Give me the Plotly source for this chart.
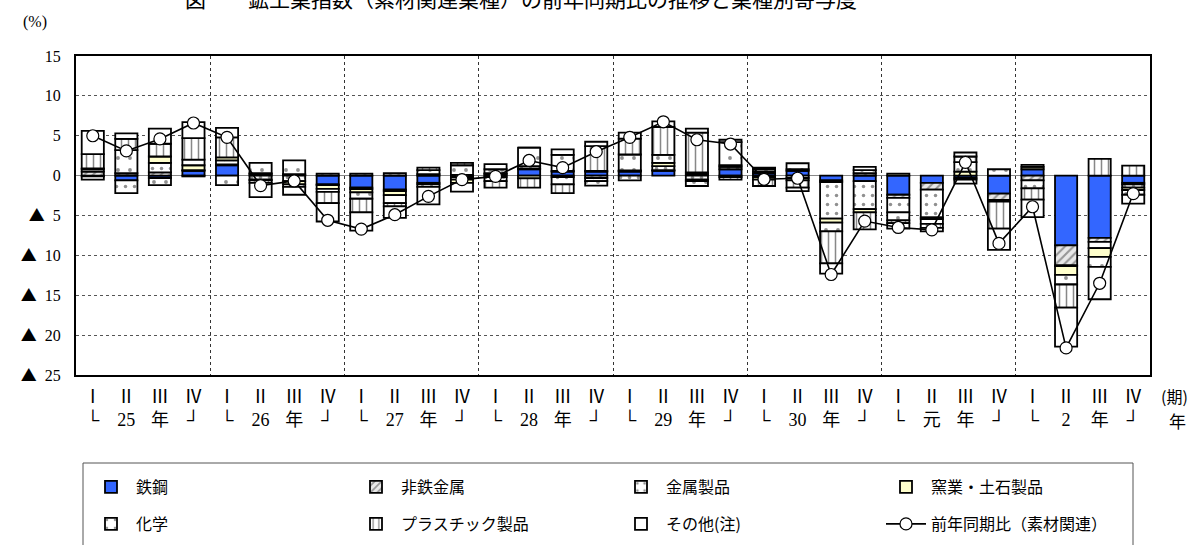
import plotly.graph_objects as go

quarters = ["Ⅰ", "Ⅱ", "Ⅲ", "Ⅳ"]
years = ["25", "26", "27", "28", "29", "30", "元", "2"]

tekko =    [-0.1, -0.6, -0.3, 0.6, 1.3, 0.2, 0.1, -1.1, -1.5, -1.75, -0.9, -0.2,
            0.2, 0.8, 0.5, 0.5, 0.5, 0.6, 0.2, 0.8, 0.3, 0.6, -0.6, -0.7,
            -2.4, -0.9, -0.3, -2.25, 0.8, -8.75, -7.8, -0.9]
hitetsu =  [0.5, 0.3, 0.4, -0.1, 0.1, 0.1, 0.1, 0.25, 0.25, 0.3, -0.2, 0.1,
            -0.2, 0.1, -0.2, -0.3, 0.1, 0.1, 0.2, -0.2, 0.2, 0.2, -0.2, 0.3,
            -0.4, -0.85, -0.2, -0.8, -0.6, -2.5, -0.5, -0.2]
kinzoku =  [0.3, -1.6, 1.2, 0.1, 0.5, -0.5, -0.7, -0.1, -0.2, -0.2, -0.3, -0.3,
            -0.5, 0.3, -0.9, -0.4, -0.6, 0.5, -0.5, 0.3, -0.2, -0.3, -4.6, -3.5,
            -1.8, -3.5, -0.5, -0.1, -1.0, -0.1, -0.8, -0.4]
yogyo =    [0.1, 0.0, 0.8, 0.6, 0.4, -0.1, -0.4, -0.45, -0.4, -0.5, 0.2, -0.4,
            0.1, -0.35, 0.1, 0.1, 0.05, 0.4, -0.2, 0.2, -0.3, -0.3, -0.5, -0.4,
            0.25, -0.2, 0.5, -0.1, 0.3, -1.1, -1.1, -0.3]
kagaku =   [-0.4, 2.9, -0.9, 0.7, -1.2, 1.3, 1.7, -0.4, -0.8, -1.0, 0.5, 1.2,
            0.5, 2.3, 2.0, -0.55, 2.0, 1.0, -0.6, 2.9, 0.3, 0.75, -1.1, 0.4,
            -1.0, -0.6, 1.2, 0.8, 0.25, -1.2, -1.25, -0.6]
plastic =  [1.8, 1.4, 1.6, 2.7, 2.5, -0.3, -0.3, -1.4, -1.7, -0.4, 0.3, 0.3,
            -0.8, -1.15, -1.1, 3.1, 2.0, 3.5, 5.0, -0.3, -0.8, -0.9, -4.0, -2.15,
            -0.35, -0.5, 0.7, -3.4, -1.4, -2.9, 2.1, 1.25]
sonota =   [2.9, 0.7, 1.9, 2.0, 1.2, -1.8, -1.0, -2.3, -2.3, -1.45, -2.2, -1.1,
            0.65, 0.0, 0.7, 0.55, 0.75, 0.7, 0.5, 0.3, 0.2, -0.45, -1.3, 0.4,
            -0.7, -0.45, 0.5, -2.65, -2.2, -4.9, -4.05, -1.1]
total =    [5.0, 3.1, 4.6, 6.6, 4.8, -1.25, -0.67, -5.6, -6.7, -4.9, -2.6, -0.5,
            -0.1, 1.9, 1.0, 3.0, 4.8, 6.75, 4.5, 3.96, -0.46, -0.33, -12.4, -5.7,
            -6.5, -6.8, 1.67, -8.5, -3.9, -21.6, -13.5, -2.25]

ytick_vals = [15, 10, 5, 0, -5, -10, -15, -20, -25]
ytick_nums = ["15", "10", "5", "0", "5", "10", "15", "20", "25"]

n = len(total)
xs = list(range(n))
second_row = []
for y in years:
    second_row += ["└", y, "年", "┘"]
xtick_text = [quarters[i % 4] + "<br>" + second_row[i] for i in range(n)]

FONT = "Liberation Serif, Noto Sans CJK JP"
JFONT = "Noto Sans CJK JP"

ytick_text = [
    (("<span style='font-family:Noto Sans CJK JP'>▲</span>  " + t) if v < 0 else t)
    for v, t in zip(ytick_vals, ytick_nums)
]

W, H = 1191, 545
L, R, T, B = 76, 41, 56, 170
PW, PH = W - L - R, H - T - B

series = [
    ("鉄鋼", tekko, dict(color="#3366FF"), "legend"),
    ("非鉄金属", hitetsu, dict(color="white", pattern=dict(shape="/", fgcolor="#444444", bgcolor="#e8e8e8", size=6, solidity=0.35)), "legend"),
    ("金属製品", kinzoku, dict(color="white", pattern=dict(shape=".", fgcolor="#222222", bgcolor="white", size=9, solidity=0.12)), "legend"),
    ("窯業・土石製品", yogyo, dict(color="#FFFFCC"), "legend"),
    ("化学", kagaku, dict(color="white", pattern=dict(shape=".", fgcolor="#222222", bgcolor="white", size=12, solidity=0.08)), "legend2"),
    ("プラスチック製品", plastic, dict(color="white", pattern=dict(shape="|", fgcolor="#111111", bgcolor="white", size=7, solidity=0.22)), "legend2"),
    ("その他(注)", sonota, dict(color="white"), "legend2"),
]

fig = go.Figure()
for name, vals, mk, lg in series:
    mk = dict(mk)
    mk["line"] = dict(color="black", width=1.8)
    fig.add_trace(go.Bar(x=xs, y=vals, name=name, marker=mk, width=0.66, legend=lg))

fig.add_trace(go.Scatter(
    x=xs, y=total, name="前年同期比（素材関連）", mode="lines+markers", legend="legend2",
    line=dict(color="black", width=1.6),
    marker=dict(symbol="circle", size=12, color="white", line=dict(color="black", width=1.2)),
))

leg_common = dict(
    orientation="h", xref="container", yref="container",
    x=86 / W, xanchor="left", yanchor="middle",
    entrywidth=210, entrywidthmode="pixels",
    borderwidth=0, bgcolor="rgba(0,0,0,0)",
    font=dict(family=JFONT, size=16), traceorder="normal",
    itemwidth=40,
)

fig.update_layout(
    width=W, height=H,
    margin=dict(l=L, r=R, t=T, b=B),
    barmode="relative",
    plot_bgcolor="white", paper_bgcolor="white",
    font=dict(family=FONT, size=16, color="black"),
    legend=dict(leg_common, y=1 - 487 / H),
    legend2=dict(leg_common, y=1 - 524 / H),
    showlegend=True,
)

fig.update_xaxes(
    range=[-0.5, n - 0.5], tickmode="array", tickvals=xs, ticktext=xtick_text,
    tickfont=dict(family=FONT, size=18), showgrid=False, ticks="",
    ticklabelstandoff=4,
    showline=True, linecolor="black", linewidth=2, mirror=True,
    minor=dict(tick0=-0.5, dtick=4, showgrid=True, gridcolor="#333333", griddash="dot", gridwidth=1),
    zeroline=False,
)
fig.update_yaxes(
    range=[-25, 15], tickmode="array", tickvals=ytick_vals, ticktext=ytick_text,
    tickfont=dict(family=FONT, size=16), showgrid=True, gridcolor="#555555",
    griddash="dot", gridwidth=1, ticks="", ticklabelstandoff=10,
    showline=True, linecolor="black", linewidth=2, mirror=True,
    zeroline=True, zerolinecolor="#888888", zerolinewidth=1.2,
)

# legend frame
fig.add_shape(type="rect", xref="paper", yref="paper",
              x0=(83 - L) / PW, x1=(1133 - L) / PW,
              y0=(H - B - 463) / PH, y1=(H - B - 552) / PH,
              line=dict(color="#555555", width=1), fillcolor="rgba(0,0,0,0)", layer="below")

fig.add_annotation(text="(%)", xref="paper", yref="paper", x=(35 - L) / PW, y=1 + (T - 22) / PH,
                   showarrow=False, xanchor="center", yanchor="middle",
                   font=dict(family=FONT, size=16))
fig.add_annotation(text="(期)", xref="paper", yref="paper", x=1 + 24 / PW, y=-21 / PH,
                   showarrow=False, xanchor="center", yanchor="middle",
                   font=dict(family=JFONT, size=16))
fig.add_annotation(text="年", xref="paper", yref="paper", x=1 + 27 / PW, y=-45 / PH,
                   showarrow=False, xanchor="center", yanchor="middle",
                   font=dict(family=JFONT, size=17))
fig.add_annotation(text="図　　鉱工業指数（素材関連業種）の前年同期比の推移と業種別寄与度",
                   xref="paper", yref="paper", x=(521 - L) / PW, y=1 + (T - 15) / PH,
                   showarrow=False, xanchor="center", yanchor="bottom",
                   font=dict(family=JFONT, size=21, color="black"))

fig.write_html("out.html", config={"displayModeBar": False},
               post_script="document.body.style.margin='0px';")
